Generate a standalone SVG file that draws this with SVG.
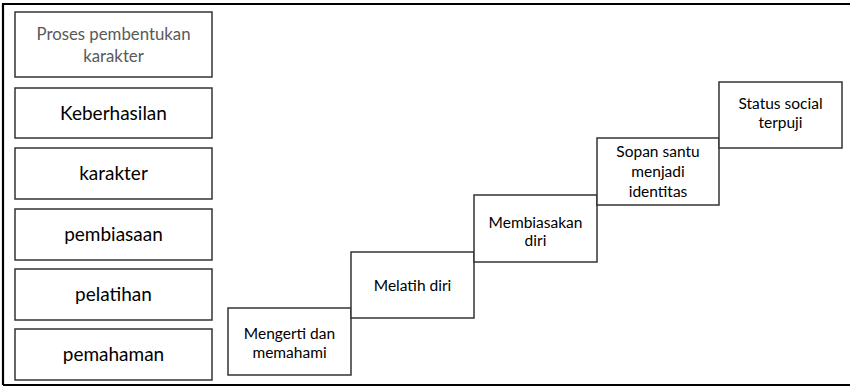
<svg xmlns="http://www.w3.org/2000/svg" width="850" height="388" viewBox="0 0 850 388">
<style>
.box{fill:#fff;stroke:#333;stroke-width:1.5}
.t{font-family:Lato,"Open Sans","Liberation Sans",sans-serif;text-anchor:middle;fill:#000}
.big{font-size:19px}
.sm{font-size:15.5px}
.hd{font-size:16.8px;fill:#595959}
</style>
<rect x="0" y="0" width="850" height="388" fill="#fff"/>
<path d="M3,385 V4 H851 M3,385 H851" fill="none" stroke="#000" stroke-width="2.2"/>
<g id="left-header"><rect class="box" x="15" y="12" width="197" height="65"/><text class="t hd" x="113.5" y="40">Proses pembentukan</text><text class="t hd" x="113.5" y="62">karakter</text></g>
<g id="left-keberhasilan"><rect class="box" x="15" y="88" width="197" height="50"/><text class="t big" x="113.5" y="120">Keberhasilan</text></g>
<g id="left-karakter"><rect class="box" x="15" y="148" width="197" height="51"/><text class="t big" x="113.5" y="180">karakter</text></g>
<g id="left-pembiasaan"><rect class="box" x="15" y="209" width="197" height="51"/><text class="t big" x="113.5" y="241">pembiasaan</text></g>
<g id="left-pelatihan"><rect class="box" x="15" y="269" width="197" height="51"/><text class="t big" x="113.5" y="301">pelatihan</text></g>
<g id="left-pemahaman"><rect class="box" x="15" y="329" width="197" height="51"/><text class="t big" x="113.5" y="361">pemahaman</text></g>
<g id="step1"><rect class="box" x="228" y="308" width="123" height="67"/><text class="t sm" x="289.5" y="339">Mengerti dan</text><text class="t sm" x="289.5" y="358">memahami</text></g>
<g id="step2"><rect class="box" x="351" y="252" width="123" height="66"/><text class="t sm" x="412.5" y="291">Melatih diri</text></g>
<g id="step3"><rect class="box" x="474" y="195" width="123" height="67"/><text class="t sm" x="535.5" y="228">Membiasakan</text><text class="t sm" x="535.5" y="246">diri</text></g>
<g id="step4"><rect class="box" x="597" y="138" width="122" height="67"/><text class="t sm" x="658" y="157">Sopan santu</text><text class="t sm" x="658" y="177">menjadi</text><text class="t sm" x="658" y="197">identitas</text></g>
<g id="step5"><rect class="box" x="719" y="82" width="123" height="66"/><text class="t sm" x="780.5" y="109">Status social</text><text class="t sm" x="780.5" y="128">terpuji</text></g>
<g id="connectors"></g>
</svg>
